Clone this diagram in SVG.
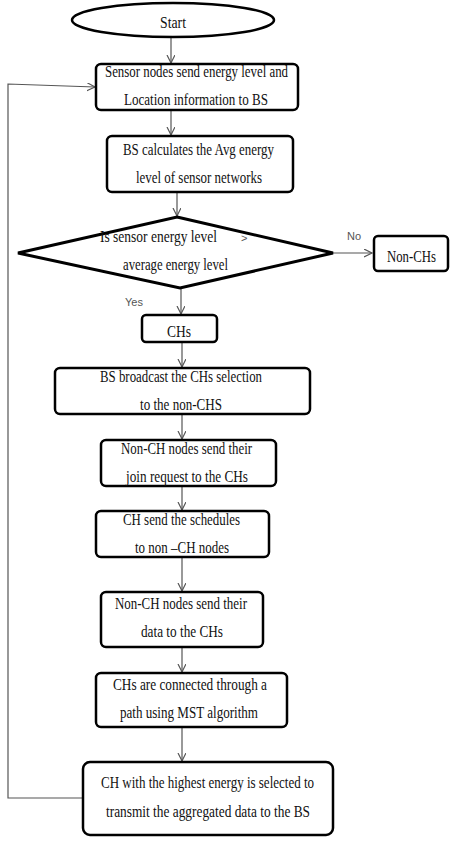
<svg xmlns="http://www.w3.org/2000/svg" width="454" height="844" viewBox="0 0 454 844">
<style>
.box{fill:#fff;stroke:#000;stroke-width:2.5}
.t{font-family:"Liberation Serif","Times New Roman",serif;font-size:17px;fill:#111}
.lbl{font-family:"Liberation Sans",Arial,sans-serif;font-size:11px;fill:#555}
.c{fill:none;stroke:#555;stroke-width:1.2}
</style>
<defs>
<marker id="ah" markerWidth="10" markerHeight="10" refX="8" refY="4" orient="auto" markerUnits="userSpaceOnUse">
<path d="M0,0 L8,4 L0,8" fill="none" stroke="#555" stroke-width="1.2"/>
</marker>
</defs>
<rect width="454" height="844" fill="#fff"/>
<g id="connectors">
<line class="c" x1="171" y1="37" x2="171" y2="63" marker-end="url(#ah)"/>
<line class="c" x1="171" y1="110" x2="171" y2="135" marker-end="url(#ah)"/>
<line class="c" x1="177" y1="192" x2="177" y2="216" marker-end="url(#ah)"/>
<line class="c" x1="333" y1="253" x2="372" y2="253" marker-end="url(#ah)"/>
<line class="c" x1="181" y1="288" x2="181" y2="314" marker-end="url(#ah)"/>
<line class="c" x1="182" y1="342" x2="182" y2="367" marker-end="url(#ah)"/>
<line class="c" x1="182" y1="414" x2="182" y2="439" marker-end="url(#ah)"/>
<line class="c" x1="182" y1="486" x2="182" y2="510" marker-end="url(#ah)"/>
<line class="c" x1="182" y1="557" x2="182" y2="591" marker-end="url(#ah)"/>
<line class="c" x1="182" y1="647" x2="182" y2="672" marker-end="url(#ah)"/>
<line class="c" x1="182" y1="727" x2="182" y2="761" marker-end="url(#ah)"/>
<polyline class="c" points="83,798 8,798 8,84 95,87" marker-end="url(#ah)"/>
<text class="lbl" x="347" y="240">No</text>
<text class="lbl" x="125" y="306">Yes</text>
</g>
<g id="start">
<ellipse class="box" cx="173" cy="20" rx="101" ry="17"/>
<text class="t" x="160" y="28" textLength="26" lengthAdjust="spacingAndGlyphs">Start</text>
</g>
<g id="sensor-send">
<rect class="box" x="96" y="64" width="202" height="46" rx="5"/>
<text class="t" x="105" y="77" textLength="183" lengthAdjust="spacingAndGlyphs">Sensor nodes send energy level and</text>
<text class="t" x="124" y="105" textLength="144" lengthAdjust="spacingAndGlyphs">Location information to BS</text>
</g>
<g id="bs-calc">
<rect class="box" x="107" y="136" width="186" height="56" rx="5"/>
<text class="t" x="123" y="155" textLength="151" lengthAdjust="spacingAndGlyphs">BS calculates the Avg energy</text>
<text class="t" x="136" y="183" textLength="126" lengthAdjust="spacingAndGlyphs">level of sensor networks</text>
</g>
<g id="decision">
<polygon points="177,217 333,253 180,288 18,253" fill="#fff" stroke="#000" stroke-width="3" stroke-linejoin="miter"/>
<text class="t" x="100" y="242" textLength="117" lengthAdjust="spacingAndGlyphs">Is sensor energy level</text>
<text class="lbl" x="241" y="242">&gt;</text>
<text class="t" x="123" y="270" textLength="105" lengthAdjust="spacingAndGlyphs">average energy level</text>
</g>
<g id="non-chs">
<rect class="box" x="374" y="236" width="74" height="35" rx="4"/>
<text class="t" x="387" y="262" textLength="49" lengthAdjust="spacingAndGlyphs">Non-CHs</text>
</g>
<g id="chs">
<rect class="box" x="142" y="315" width="75" height="27" rx="4"/>
<text class="t" x="167" y="337" textLength="24" lengthAdjust="spacingAndGlyphs">CHs</text>
</g>
<g id="bs-broadcast">
<rect class="box" x="55" y="368" width="255" height="46" rx="5"/>
<text class="t" x="100" y="382" textLength="162" lengthAdjust="spacingAndGlyphs">BS broadcast the CHs selection</text>
<text class="t" x="140" y="410" textLength="82" lengthAdjust="spacingAndGlyphs">to the non-CHS</text>
</g>
<g id="join-request">
<rect class="box" x="101" y="440" width="175" height="46" rx="5"/>
<text class="t" x="121" y="454" textLength="131" lengthAdjust="spacingAndGlyphs">Non-CH nodes send their</text>
<text class="t" x="126" y="482" textLength="122" lengthAdjust="spacingAndGlyphs">join request to the CHs</text>
</g>
<g id="ch-schedules">
<rect class="box" x="96" y="511" width="173" height="46" rx="5"/>
<text class="t" x="123" y="525" textLength="117" lengthAdjust="spacingAndGlyphs">CH send the schedules</text>
<text class="t" x="135" y="553" textLength="94" lengthAdjust="spacingAndGlyphs">to non –CH nodes</text>
</g>
<g id="send-data">
<rect class="box" x="101" y="592" width="162" height="55" rx="5"/>
<text class="t" x="115" y="609" textLength="132" lengthAdjust="spacingAndGlyphs">Non-CH nodes send their</text>
<text class="t" x="141" y="637" textLength="82" lengthAdjust="spacingAndGlyphs">data to the CHs</text>
</g>
<g id="mst">
<rect class="box" x="96" y="673" width="191" height="54" rx="5"/>
<text class="t" x="113" y="690" textLength="154" lengthAdjust="spacingAndGlyphs">CHs are connected through a</text>
<text class="t" x="120" y="718" textLength="138" lengthAdjust="spacingAndGlyphs">path using MST algorithm</text>
</g>
<g id="highest-energy">
<rect class="box" x="83" y="762" width="250" height="73" rx="7"/>
<text class="t" x="101" y="788" textLength="213" lengthAdjust="spacingAndGlyphs">CH with the highest energy is selected to</text>
<text class="t" x="106" y="817" textLength="204" lengthAdjust="spacingAndGlyphs">transmit the aggregated data to the BS</text>
</g>
</svg>
